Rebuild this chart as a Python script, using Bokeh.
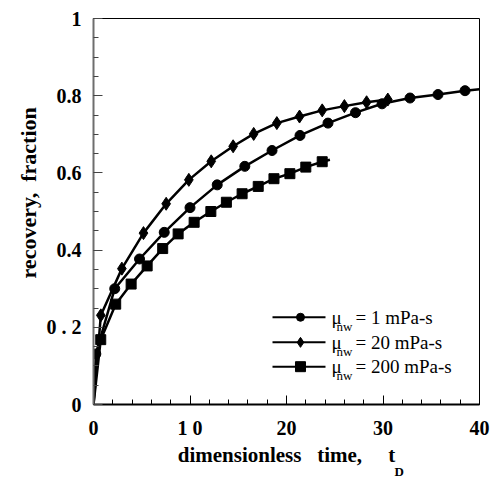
from bokeh.plotting import figure
from bokeh.models import Range1d, FixedTicker, Title, ColumnDataSource
from bokeh.core.properties import value
from bokeh.embed import file_html
from bokeh.resources import INLINE

# ---- data ----
t_mu1 = [0.24, 2.2, 4.77, 7.33, 10.0, 12.82, 15.68, 18.5, 21.4, 24.3, 27.15, 29.9, 32.8, 35.7, 38.5]
r_mu1 = [0.131, 0.300, 0.377, 0.446, 0.510, 0.569, 0.617, 0.658, 0.697, 0.729, 0.756, 0.779, 0.794, 0.803, 0.813]
t_mu1_line = [0.0] + t_mu1 + [40.0]
r_mu1_line = [0.0] + r_mu1 + [0.817]

t_mu20 = [0.76, 2.94, 5.18, 7.53, 9.88, 12.2, 14.47, 16.6, 19.0, 21.35, 23.7, 26.0, 28.3, 30.5]
r_mu20 = [0.231, 0.352, 0.444, 0.520, 0.582, 0.630, 0.669, 0.701, 0.729, 0.746, 0.762, 0.773, 0.783, 0.790]
t_mu20_line = [0.0] + t_mu20
r_mu20_line = [0.0] + r_mu20

t_mu200 = [0.75, 2.3, 3.9, 5.56, 7.17, 8.77, 10.43, 12.16, 13.77, 15.4, 17.07, 18.7, 20.35, 22.0, 23.7]
r_mu200 = [0.168, 0.260, 0.312, 0.359, 0.404, 0.442, 0.472, 0.500, 0.524, 0.546, 0.565, 0.585, 0.598, 0.615, 0.629]
t_mu200_line = [0.0] + t_mu200 + [24.5]
r_mu200_line = [0.0] + r_mu200 + [0.634]

x_ticks = [0, 10, 20, 30, 40]
x_tick_labels = ["0", "1 0", "20", "30", "40"]
y_ticks = [0, 0.2, 0.4, 0.6, 0.8, 1]
y_tick_labels = ["0", "0 . 2", "0.4", "0.6", "0.8", "1"]

legend_values = ["= 1 mPa-s", "= 20 mPa-s", "= 200 mPa-s"]

SERIF = "'Liberation Serif', 'Times New Roman', Times, serif"

p = figure(width=493, height=480, output_backend="svg", toolbar_location=None,
           x_range=Range1d(0, 40), y_range=Range1d(0, 1),
           min_border_left=93, min_border_right=14, min_border_top=18, min_border_bottom=76)
p.background_fill_color = "white"
p.border_fill_color = "white"
p.grid.visible = False
p.outline_line_color = "black"
p.outline_line_width = 1

# axes
p.xaxis.ticker = FixedTicker(ticks=x_ticks, minor_ticks=list(range(0, 41, 2)))
p.yaxis.ticker = FixedTicker(ticks=y_ticks, minor_ticks=[round(i * 0.05, 2) for i in range(21)])
p.xaxis.major_label_overrides = dict(zip(x_ticks, x_tick_labels))
p.yaxis.major_label_overrides = dict(zip(y_ticks, y_tick_labels))
for ax in (p.xaxis[0], p.yaxis[0]):
    ax.major_tick_in = 9
    ax.major_tick_out = 0
    ax.minor_tick_in = 5
    ax.minor_tick_out = 0
    ax.major_label_text_font = SERIF
    ax.major_label_text_font_style = "bold"
    ax.major_label_text_font_size = "20px"
    ax.major_label_text_color = "black"
    ax.major_label_standoff = 12
    ax.axis_label_text_font = SERIF
    ax.axis_label_text_font_style = "bold"
    ax.axis_label_text_font_size = "21px"
    ax.axis_label_text_color = "black"
p.xaxis.axis_line_width = 2
p.xaxis.axis_line_color = "black"
p.yaxis.axis_line_width = 2
p.yaxis.axis_line_color = "#6e6e6e"
p.yaxis.major_tick_line_color = "#444444"
p.yaxis.minor_tick_line_color = "#444444"
p.xaxis.axis_label = "dimensionless\u00a0\u00a0 time,\u00a0\u00a0\u00a0\u00a0 t"
p.xaxis.axis_label_standoff = 1

# series
src1 = ColumnDataSource(dict(t=t_mu1, r=r_mu1))
src20 = ColumnDataSource(dict(t=t_mu20, r=r_mu20))
src200 = ColumnDataSource(dict(t=t_mu200, r=r_mu200))

p.line(t_mu1_line, r_mu1_line, line_color="black", line_width=2.5)
p.line(t_mu20_line, r_mu20_line, line_color="black", line_width=2.5)
p.line(t_mu200_line, r_mu200_line, line_color="black", line_width=2.5)
p.scatter("t", "r", source=src1, marker="circle", size=10, color="black")
p.scatter("t", "r", source=src20, marker="diamond", size=13, color="black")
p.scatter("t", "r", source=src200, marker="square", size=10, color="black")

# legend (drawn by hand because of the subscripts)
leg_x0, leg_x1, leg_xm = 18.55, 24.04, 21.45
leg_rows = [0.226, 0.161, 0.098]
leg_markers = ["circle", "diamond", "square"]
leg_sizes = [8, 10, 10]
p.segment(x0=[leg_x0] * 3, y0=leg_rows, x1=[leg_x1] * 3, y1=leg_rows, line_color="black", line_width=2)
for yy, mk, sz in zip(leg_rows, leg_markers, leg_sizes):
    p.scatter([leg_xm], [yy], marker=mk, size=sz, color="black")
p.text(x=[leg_x0] * 3, y=leg_rows, text=["\u03bc"] * 3, x_offset=59, text_baseline="middle",
       text_font=value(SERIF), text_font_size="19px", text_color="black")
p.text(x=[leg_x0] * 3, y=leg_rows, text=["nw"] * 3, x_offset=64, y_offset=9, text_baseline="middle",
       text_font=value(SERIF), text_font_size="13px", text_color="black")
p.text(x=[leg_x0] * 3, y=leg_rows, text=legend_values, x_offset=83, text_baseline="middle",
       text_font=value(SERIF), text_font_size="19px", text_color="black")

# y axis title (starts 126 px above the bottom of the frame, as in the reference) and x subscript
p.add_layout(Title(text="recovery,\u00a0 fraction", align="left", offset=126, standoff=5,
                   text_font=SERIF, text_font_style="bold", text_font_size="22px",
                   text_color="black"), "left")
p.add_layout(Title(text="D", align="left", offset=301, standoff=-18,
                   text_font=SERIF, text_font_style="bold", text_font_size="13px",
                   text_color="black"), "below")

open("out.html", "w").write(file_html(p, INLINE))
